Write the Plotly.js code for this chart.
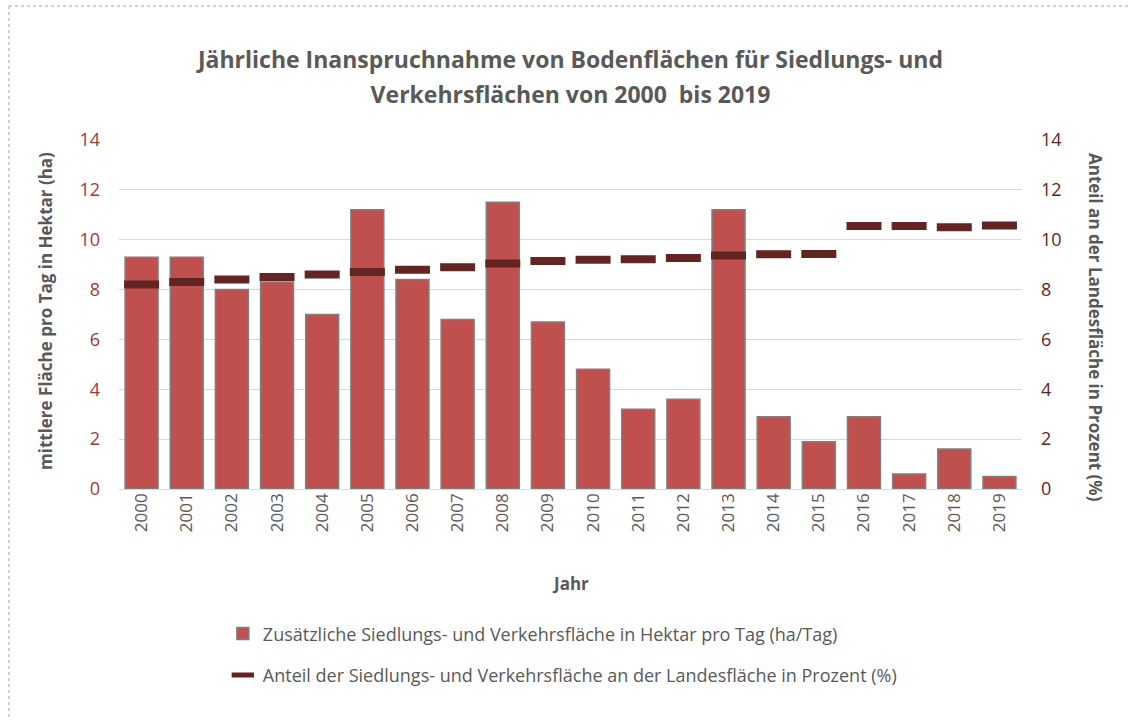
<!DOCTYPE html>
<html>
<head>
<meta charset="utf-8">
<script src="https://cdn.plot.ly/plotly-3.0.1.min.js"></script>
<style>
  html, body { margin: 0; padding: 0; background: #ffffff; }
  #chart { width: 1128px; height: 720px; }
</style>
</head>
<body>
<div id="chart"></div>
<script>
const years = ["2000","2001","2002","2003","2004","2005","2006","2007","2008","2009",
               "2010","2011","2012","2013","2014","2015","2016","2017","2018","2019"];
const haPerDay = [9.3, 9.3, 8.0, 8.3, 7.0, 11.2, 8.4, 6.8, 11.5, 6.7,
                  4.8, 3.2, 3.6, 11.2, 2.9, 1.9, 2.9, 0.6, 1.6, 0.5];
const sharePercent = [8.2, 8.3, 8.4, 8.5, 8.6, 8.7, 8.8, 8.9, 9.05, 9.15,
                      9.2, 9.22, 9.27, 9.37, 9.42, 9.43, 10.55, 10.55, 10.5, 10.57];
const yTicks = [0, 2, 4, 6, 8, 10, 12, 14];

const FONT = "'Open Sans', Lato, sans-serif";

const traces = [
  {
    type: "bar",
    name: "Zusätzliche Siedlungs- und Verkehrsfläche in Hektar pro Tag (ha/Tag)",
    x: years,
    y: haPerDay,
    marker: { color: "#C0504D", line: { color: "#7F7F7F", width: 1.5 } },
    legendgroup: "a",
    hoverinfo: "x+y"
  },
  {
    type: "scatter",
    mode: "markers",
    name: "Anteil der Siedlungs- und Verkehrsfläche an der Landesfläche in Prozent (%)",
    x: years,
    y: sharePercent,
    yaxis: "y2",
    marker: { symbol: "line-ew", size: 25, color: "#632523", line: { color: "#632523", width: 8 } },
    legendgroup: "b",
    hoverinfo: "x+y"
  }
];

const layout = {
  width: 1128,
  height: 720,
  paper_bgcolor: "#ffffff",
  plot_bgcolor: "#ffffff",
  font: { family: FONT, size: 17, color: "#595959" },
  margin: { l: 119, r: 106, t: 140, b: 231 },
  title: {
    text: "<span style='font-size:23px'>Jährliche Inanspruchnahme von Bodenflächen für Siedlungs- und</span><br><span style='font-size:23px'>Verkehrsflächen von 2000  bis 2019</span>",
    font: { family: FONT, size: 27, color: "#595959", weight: "bold" },
    x: 0.5, xref: "paper", xanchor: "center",
    y: 1 - 68 / 720, yref: "container", yanchor: "middle"
  },
  bargap: 0.27,
  showlegend: true,
  legend: {
    x: 0.115, xanchor: "left",
    y: -0.362, yanchor: "top",
    orientation: "v",
    traceorder: "grouped",
    tracegroupgap: 15,
    itemwidth: 30,
    font: { family: FONT, size: 18, color: "#595959" },
    bgcolor: "rgba(0,0,0,0)"
  },
  xaxis: {
    type: "category",
    range: [-0.5, 19.5],
    tickangle: -90,
    tickfont: { family: FONT, size: 17, color: "#595959" },
    showgrid: false,
    showline: false,
    ticks: "",
    automargin: false,
    fixedrange: true
  },
  yaxis: {
    range: [0, 14],
    tickvals: yTicks,
    tickfont: { family: FONT, size: 18, color: "#9B3A38" },
    showgrid: true,
    gridcolor: "#D9D9D9",
    gridwidth: 1,
    zeroline: true,
    zerolinecolor: "#D9D9D9",
    zerolinewidth: 1,
    ticks: "",
    ticklabelstandoff: 18,
    automargin: false,
    fixedrange: true
  },
  yaxis2: {
    overlaying: "y",
    side: "right",
    range: [0, 14],
    tickvals: yTicks,
    tickfont: { family: FONT, size: 18, color: "#632523" },
    showgrid: false,
    zeroline: false,
    ticks: "",
    ticklabelstandoff: 18,
    automargin: false,
    fixedrange: true
  },
  annotations: [
    {
      text: "<b>mittlere Fläche pro Tag in Hektar (ha)</b>",
      xref: "paper", yref: "paper",
      x: (45 - 119) / 903, y: (489 - 311) / 349,
      xanchor: "center", yanchor: "middle",
      textangle: -90, showarrow: false,
      font: { family: FONT, size: 17, color: "#595959" }
    },
    {
      text: "<b>Anteil an der Landesfläche in Prozent (%)</b>",
      xref: "paper", yref: "paper",
      x: (1096 - 119) / 903, y: (489 - 327) / 349,
      xanchor: "center", yanchor: "middle",
      textangle: 90, showarrow: false,
      font: { family: FONT, size: 17, color: "#595959" }
    },
    {
      text: "<b>Jahr</b>",
      xref: "paper", yref: "paper",
      x: 0.5, y: (489 - 583) / 349,
      xanchor: "center", yanchor: "middle",
      showarrow: false,
      font: { family: FONT, size: 17, color: "#595959" }
    }
  ],
  shapes: [
    {
      type: "line", xref: "paper", yref: "paper",
      x0: (9 - 119) / 903, x1: (9 - 119) / 903,
      y0: (489 - 6) / 349, y1: (489 - 730) / 349,
      line: { color: "#A6A6A6", width: 1, dash: "dot" }
    },
    {
      type: "line", xref: "paper", yref: "paper",
      x0: (9 - 119) / 903, x1: (1140 - 119) / 903,
      y0: (489 - 6) / 349, y1: (489 - 6) / 349,
      line: { color: "#A6A6A6", width: 1, dash: "dot" }
    }
  ]
};

Plotly.newPlot("chart", traces, layout, { displayModeBar: false, staticPlot: true });
</script>
</body>
</html>
